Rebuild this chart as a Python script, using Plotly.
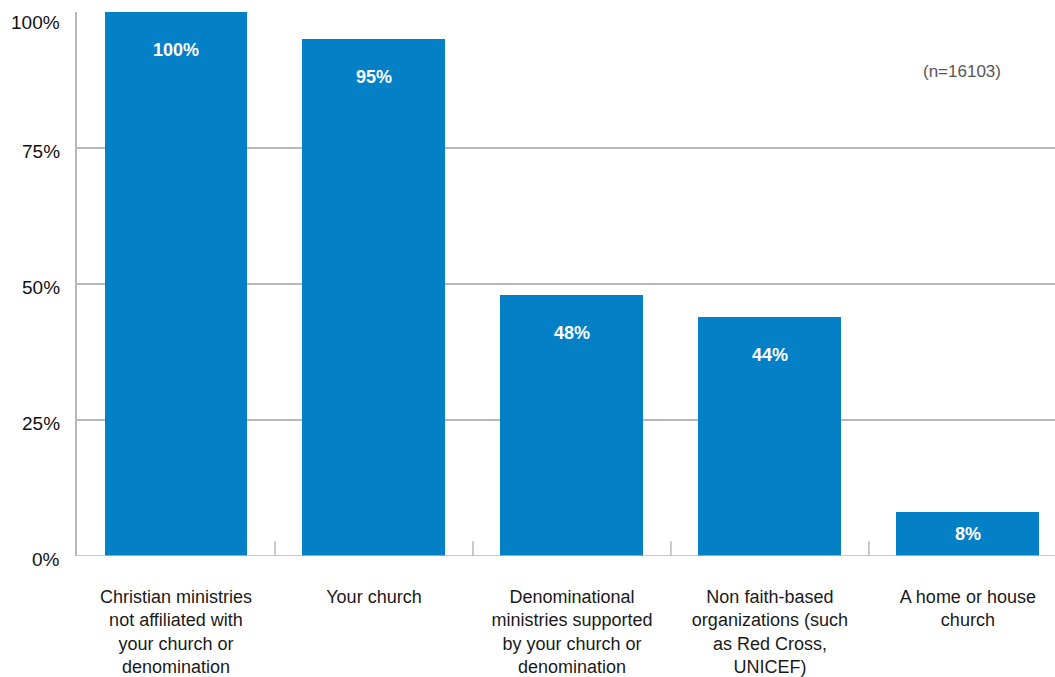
import plotly.graph_objects as go

categories = [
    "Christian ministries<br>not affiliated with<br>your church or<br>denomination",
    "Your church",
    "Denominational<br>ministries supported<br>by your church or<br>denomination",
    "Non faith-based<br>organizations (such<br>as Red Cross,<br>UNICEF)",
    "A home or house<br>church",
]
values = [100, 95, 48, 44, 8]
y_ticks = [0, 25, 50, 75, 100]
y_tick_labels = ["0%", "25%", "50%", "75%", "100%"]
sample_note = "(n=16103)"

BAR_COLOR = "#0380C6"
GRID_COLOR = "#B8B8B8"
FONT = "Liberation Sans, Arial, Helvetica, sans-serif"

fig = go.Figure()
fig.add_trace(go.Bar(
    x=list(range(len(categories))),
    y=values,
    marker=dict(color=BAR_COLOR, line=dict(width=0)),
    width=0.722,
    hoverinfo="skip",
))

# value labels a little below each bar top (centred for short bars)
for i, v in enumerate(values):
    fig.add_annotation(
        x=i, y=max(v - 7, v / 2), xref="x", yref="y",
        text=f"<b>{v}%</b>", showarrow=False,
        yanchor="middle",
        font=dict(family=FONT, size=18, color="white"),
    )

fig.add_annotation(
    x=0.905, y=0.89, xref="paper", yref="paper",
    text=sample_note, showarrow=False,
    xanchor="center", yanchor="middle",
    font=dict(family=FONT, size=17, color="#555555"),
)

# y-axis percentage labels
for t, lab in zip(y_ticks, y_tick_labels):
    fig.add_annotation(
        x=0, y=t, xref="paper", yref="y",
        text=lab, showarrow=False,
        xanchor="right", yanchor="middle",
        xshift=-15, yshift=-10 if t == 100 else -3,
        font=dict(family=FONT, size=19, color="#111111"),
    )

fig.update_layout(
    width=1055, height=677,
    margin=dict(l=77, r=0, t=12, b=119),
    paper_bgcolor="white", plot_bgcolor="white",
    showlegend=False,
    bargap=0,
    font=dict(family=FONT, color="#1a1a1a"),
)

fig.update_xaxes(
    type="linear",
    range=[-0.5, 4.44],
    tickmode="array",
    tickvals=list(range(len(categories))),
    ticktext=categories,
    ticks="",
    showgrid=False,
    zeroline=False,
    showline=False,
    tickfont=dict(family=FONT, size=18, color="#1a1a1a"),
    ticklabelstandoff=28,
)

# category separator ticks along the baseline
for b in [0.5, 1.5, 2.5, 3.5]:
    fig.add_shape(
        type="line", xref="x", yref="y",
        x0=b, x1=b, y0=0, y1=2.7,
        line=dict(color=GRID_COLOR, width=1.5),
        layer="above",
    )

fig.update_yaxes(
    range=[0, 100],
    tickmode="array",
    tickvals=y_ticks,
    showticklabels=False,
    ticks="",
    showgrid=True,
    gridcolor=GRID_COLOR,
    gridwidth=1.5,
    zeroline=False,
    showline=True,
    linecolor=GRID_COLOR,
    linewidth=1.5,
)

# baseline along the bottom of the plot
fig.add_shape(
    type="line", xref="paper", yref="y",
    x0=0, x1=1, y0=0, y1=0,
    line=dict(color=GRID_COLOR, width=1.5),
    layer="above",
)

fig.write_html("out.html")
